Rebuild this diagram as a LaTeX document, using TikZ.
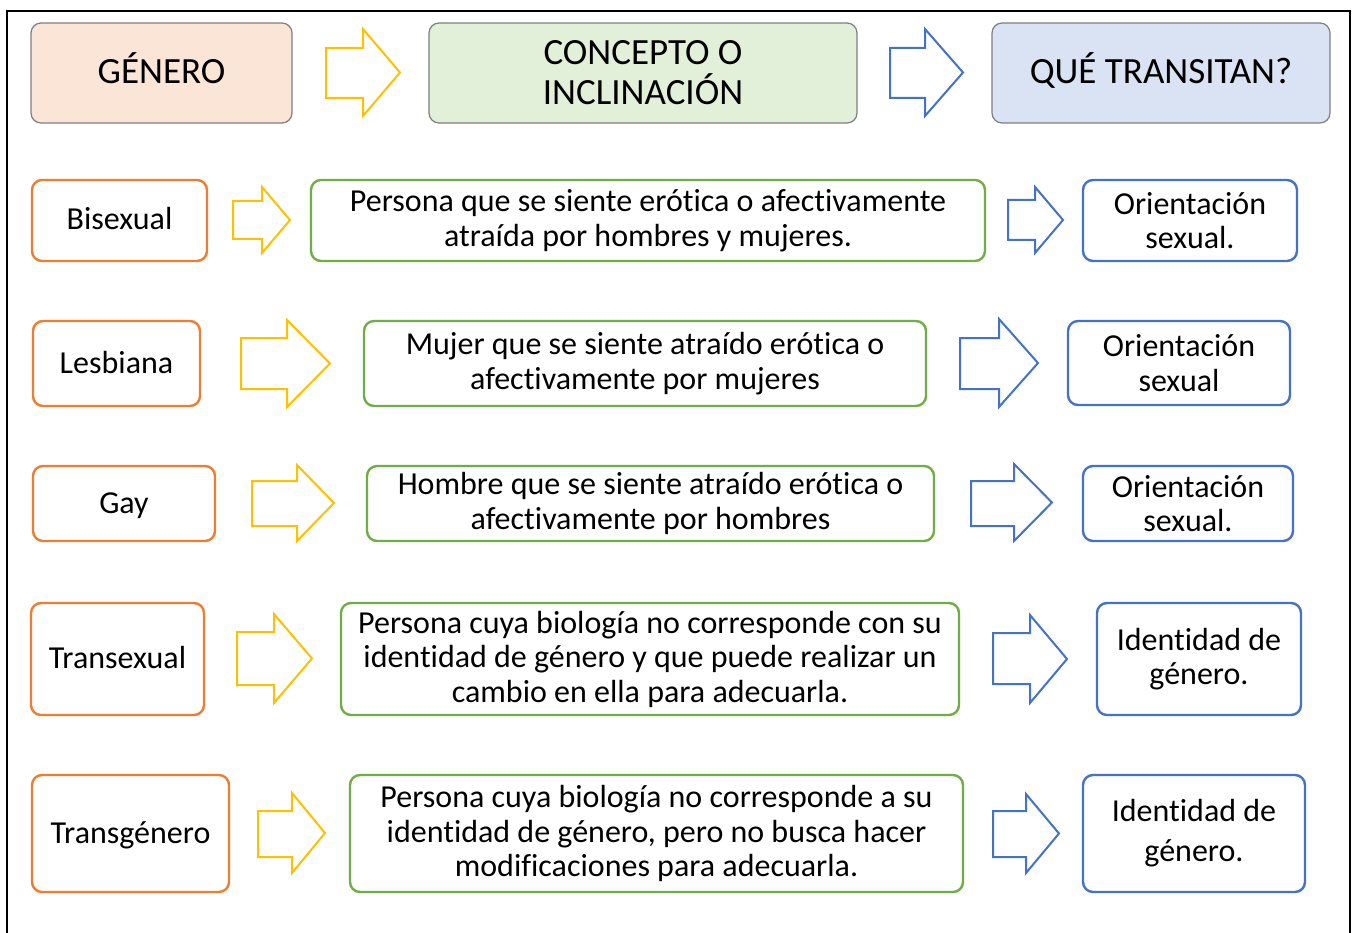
\documentclass[tikz,border=0pt]{standalone}
\usepackage{fontspec}
\setmainfont{Carlito}[Ligatures=NoCommon]
\definecolor{orng}{HTML}{ED7D31}
\definecolor{grn}{HTML}{70AD47}
\definecolor{blu}{HTML}{4472C4}
\definecolor{ylw}{HTML}{FFC000}
\definecolor{peach}{HTML}{FBE5D6}
\definecolor{lgrn}{HTML}{E2F0D9}
\definecolor{lblu}{HTML}{DAE3F3}
\definecolor{hdrline}{HTML}{7F7F7F}
\newcommand\blkarrow[8]{%
  \draw[#1] (#2,#6) -- (#3,#6) -- (#3,#5) -- (#4,{(#5+#8)/2}) -- (#3,#8) -- (#3,#7) -- (#2,#7) -- cycle;}
\tikzset{
  box/.style={rounded corners=10pt, line width=2.4pt, align=center, inner sep=0pt,
    font=\fontsize{32}{34.5}\selectfont, text=black},
  one/.style={text height=27pt, text depth=8pt},
  hone/.style={text height=30pt, text depth=8pt},
  obox/.style={box, one, draw=orng},
  gbox/.style={box, draw=grn},
  bbox/.style={box, draw=blu},
  hdr/.style={rounded corners=10pt, line width=1.2pt, draw=hdrline, align=center, inner sep=0pt,
    font=\fontsize{37}{40}\selectfont, text=black, minimum height=100pt},
  yarr/.style={draw=ylw, line width=2pt, line join=miter},
  barr/.style={draw=blu, line width=2pt, line join=miter},
}
\begin{document}
\begin{tikzpicture}[x=1pt,y=-1pt]
\useasboundingbox (0,0) rectangle (1357,933);
\fill[white] (0,0) rectangle (1357,933);
\draw[line width=2.5pt] (7,933) -- (7,11) -- (1350,11) -- (1350,933);
% header
\node[hdr, hone, fill=peach, minimum width=261pt] (gen) at (161.5,73) {GÉNERO};
\node[hdr, fill=lgrn, minimum width=428pt] (con) at (643,73) {CONCEPTO O\\INCLINACIÓN};
\node[hdr, hone, fill=lblu, minimum width=338pt] (que) at (1161,73) {QUÉ TRANSITAN?};
\blkarrow{yarr}{326}{363}{400}{29}{48}{98}{116}
\blkarrow{barr}{890}{925}{963}{29}{48}{98}{116}
% row 1
\node[obox, minimum width=175pt, minimum height=81pt] (bis) at (119.5,220.5) {Bisexual};
\node[gbox, minimum width=674pt, minimum height=81pt] (bisd) at (648,220.5) {Persona que se siente erótica o afectivamente\\atraída por hombres y mujeres.};
\node[bbox, minimum width=214pt, minimum height=81pt] (biso) at (1190,220.5) {Orientación\\sexual.};
\blkarrow{yarr}{233}{262}{290}{187}{201}{239}{253}
\blkarrow{barr}{1008}{1035}{1063}{187}{200}{240}{253}
% row 2
\node[obox, minimum width=167pt, minimum height=85pt] (les) at (116.5,363.5) {Lesbiana};
\node[gbox, minimum width=562pt, minimum height=85pt] (lesd) at (645,363.5) {Mujer que se siente atraído erótica o\\afectivamente por mujeres};
\node[bbox, minimum width=222pt, minimum height=84pt] (leso) at (1179,363) {Orientación\\sexual};
\blkarrow{yarr}{241}{287}{330}{320}{338}{389}{407}
\blkarrow{barr}{960}{999}{1038}{319}{338}{389}{407}
% row 3
\node[obox, minimum width=182pt, minimum height=75pt] (gay) at (124,503.5) {Gay};
\node[gbox, minimum width=567pt, minimum height=75pt] (gayd) at (650.5,503.5) {Hombre que se siente atraído erótica o\\afectivamente por hombres};
\node[bbox, minimum width=210pt, minimum height=75pt] (gayo) at (1188,503.5) {Orientación\\sexual.};
\blkarrow{yarr}{252}{297}{334}{465}{481}{526}{541}
\blkarrow{barr}{971}{1014}{1052}{464}{481}{526}{541}
% row 4
\node[obox, minimum width=173pt, minimum height=112pt] (tra) at (117.5,659) {Transexual};
\node[gbox, minimum width=618pt, minimum height=112pt] (trad) at (650,659) {Persona cuya biología no corresponde con su\\identidad de género y que puede realizar un\\cambio en ella para adecuarla.};
\node[bbox, minimum width=204pt, minimum height=112pt] (trao) at (1199,659) {Identidad de\\género.};
\blkarrow{yarr}{237}{274}{312}{614}{632}{685}{703}
\blkarrow{barr}{993}{1030}{1067}{615}{633}{684}{703}
% row 5
\node[obox, minimum width=197pt, minimum height=117pt] (trg) at (130.5,833.5) {Transgénero};
\node[gbox, minimum width=613pt, minimum height=117pt] (trgd) at (656.5,833.5) {Persona cuya biología no corresponde a su\\identidad de género, pero no busca hacer\\modificaciones para adecuarla.};
\node[bbox, minimum width=222pt, minimum height=117pt, font=\fontsize{32}{40}\selectfont] (trgo) at (1194,833.5) {Identidad de\\género.};
\blkarrow{yarr}{258}{292}{325}{793}{811}{857}{873}
\blkarrow{barr}{993}{1026}{1059}{794}{811}{857}{873}
\end{tikzpicture}
\end{document}
